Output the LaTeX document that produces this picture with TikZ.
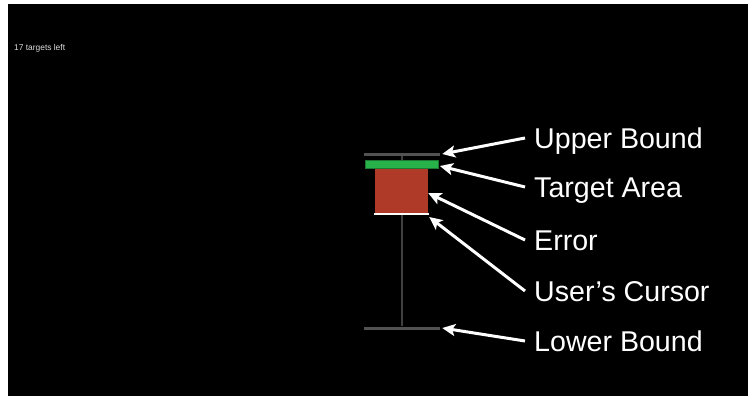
\documentclass[tikz,border=0pt]{standalone}
\usepackage{fontspec}
\setmainfont{Liberation Sans}
\usetikzlibrary{arrows.meta}
\definecolor{boundgray}{RGB}{82,82,82}
\definecolor{trackgray}{RGB}{64,64,64}
\definecolor{targetgreen}{RGB}{40,178,74}
\definecolor{targetedge}{RGB}{28,120,50}
\definecolor{errorred}{RGB}{176,58,40}

\begin{document}
\begin{tikzpicture}[x=1pt, y=-1pt,
    bound/.style={fill=boundgray, inner sep=0, minimum width=76pt, minimum height=3pt},
    lbl/.style={anchor=west, text=white, inner xsep=9pt, inner ysep=0, text height=20pt, text depth=0pt, font=\fontsize{28.6}{30}\selectfont},
    callout/.style={draw=white, line width=3pt, -{Stealth[length=13pt, width=12pt, inset=3pt]}}]
    % Background
    \useasboundingbox (0,0) rectangle (751,396);
    \fill[black] (8,4) rectangle (748,396);
    % Counter
    \node[anchor=base west, inner sep=0, text=gray!25!white, font=\fontsize{8.4}{9}\selectfont] (count) at (14,50) {17 targets left};
    % Bounds and track
    \node[bound] (upper) at (402,154) {};
    \node[bound] (lower) at (402,328) {};
    \draw[trackgray, line width=1.5pt] (upper) -- (lower);
    % Target area, error and cursor
    \node[fill=errorred, inner sep=0, minimum width=53pt, minimum height=45pt] (error) at (401.5,190.5) {};
    \node[fill=targetgreen, draw=targetedge, line width=0.8pt, inner sep=0, minimum width=73pt, minimum height=8pt] (target) at (402,164) {};
    \node[fill=white, inner sep=0, minimum width=55pt, minimum height=2.5pt] (cursor) at (401.5,214) {};

    % Labels
    \node[lbl] (lupper) at (525,138) {Upper Bound};
    \node[lbl] (ltarget) at (525,187) {Target Area};
    \node[lbl] (lerror) at (525,240) {Error};
    \node[lbl] (lcursor) at (525,291) {User’s Cursor};
    \node[lbl] (llower) at (525,341) {Lower Bound};

    % Arrows
    \draw[callout] (lupper.west) -- ([xshift=2pt]upper.east);
    \draw[callout] (ltarget.west) -- ([xshift=1pt, yshift=-2pt]target.east);
    \draw[callout] (lerror.west) -- ([yshift=-2.5pt]error.east);
    \draw[callout] (lcursor.west) -- ([yshift=-3pt]cursor.east);
    \draw[callout] (llower.west) -- ([xshift=2pt]lower.east);
\end{tikzpicture}
\end{document}
